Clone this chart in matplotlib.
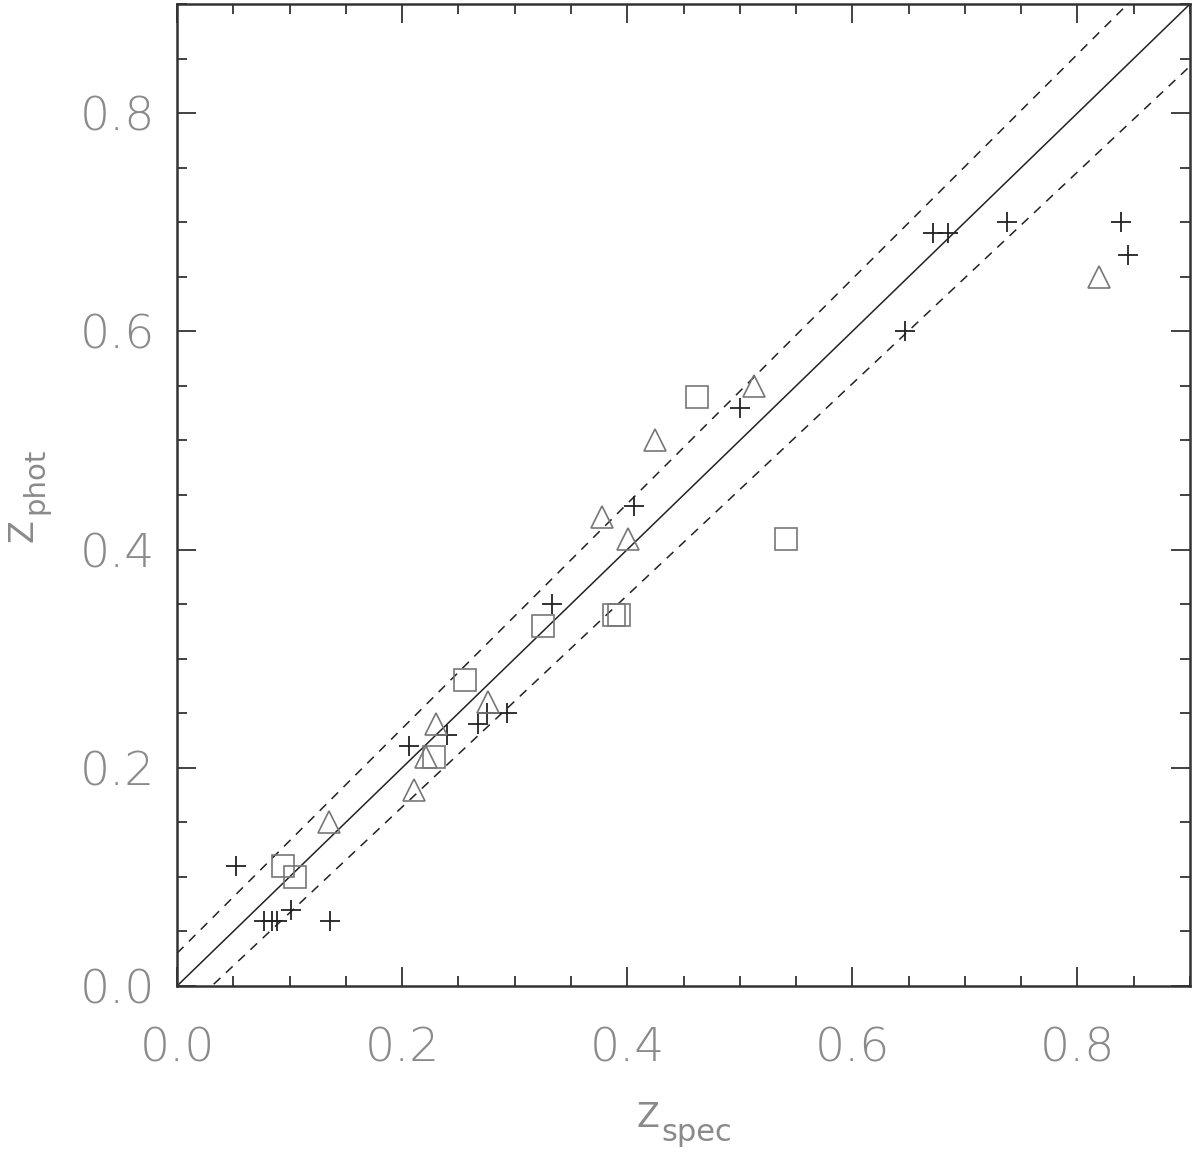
import numpy as np
import matplotlib
matplotlib.use("Agg")
import matplotlib.pyplot as plt
from matplotlib.ticker import MultipleLocator, FormatStrFormatter

# photometric vs spectroscopic redshift
plus_zspec = [0.052, 0.077, 0.084, 0.089, 0.101, 0.136, 0.206, 0.240, 0.267, 0.275,
              0.293, 0.333, 0.406, 0.500, 0.647, 0.672, 0.685, 0.737, 0.839, 0.845]
plus_zphot = [0.11, 0.06, 0.06, 0.06, 0.07, 0.06, 0.22, 0.23, 0.24, 0.25,
              0.25, 0.35, 0.44, 0.53, 0.60, 0.69, 0.69, 0.70, 0.70, 0.67]

sq_zspec = [0.094, 0.105, 0.228, 0.256, 0.325, 0.388, 0.393, 0.462, 0.541]
sq_zphot = [0.11, 0.10, 0.21, 0.28, 0.33, 0.34, 0.34, 0.54, 0.41]

tri_zspec = [0.135, 0.211, 0.221, 0.230, 0.276, 0.378, 0.401, 0.425, 0.513, 0.819]
tri_zphot = [0.15, 0.18, 0.21, 0.24, 0.26, 0.43, 0.41, 0.50, 0.55, 0.65]

scatter_width = 0.03  # dashed lines at +/- 0.03(1+z)

GRAY = "#8a8a8a"
FONT = ["DejaVu Sans"]
W, H = 1200, 1156

fig = plt.figure(figsize=(12, 11.56), dpi=100)
ax = fig.add_axes([177 / W, 1 - 986 / H, 1013 / W, 982 / H])

z = np.linspace(0, 0.9, 200)
ax.plot(z, z, color="#222222", lw=1.1)
ax.plot(z, z + scatter_width * (1 + z), color="#222222", lw=1.1, ls=(0, (6, 5)))
ax.plot(z, z - scatter_width * (1 + z), color="#222222", lw=1.1, ls=(0, (6, 5)))

ax.plot(plus_zspec, plus_zphot, ls="none", marker="+", ms=15, mew=1.3, color="#222222")
ax.plot(sq_zspec, sq_zphot, ls="none", marker="s", ms=15.5, mew=1.2,
        mfc="none", mec="#777777")
ax.plot(tri_zspec, tri_zphot, ls="none", marker="^", ms=15.5, mew=1.2,
        mfc="none", mec="#777777")

ax.set_xlim(0, 0.9)
ax.set_ylim(0, 0.9)

for axis in (ax.xaxis, ax.yaxis):
    axis.set_major_locator(MultipleLocator(0.2))
    axis.set_minor_locator(MultipleLocator(0.05))
    axis.set_major_formatter(FormatStrFormatter("%.1f"))

ax.tick_params(which="both", direction="in", top=True, right=True,
               color="#333333", width=1.3)
ax.tick_params(which="major", length=14)
ax.tick_params(which="minor", length=7)
ax.tick_params(axis="x", which="major", pad=29, labelsize=34, labelcolor=GRAY)
ax.tick_params(axis="y", which="major", pad=16, labelsize=34, labelcolor=GRAY)
for lab in ax.get_xticklabels() + ax.get_yticklabels():
    lab.set_family(FONT)
    lab.set_fontweight("light")

for sp in ax.spines.values():
    sp.set_linewidth(1.8)
    sp.set_color("#333333")

# axis titles: "Z" plus a lowered, same-size subscript
lab_kw = dict(color=GRAY, family=FONT, rotation_mode="anchor",
              ha="left", va="baseline")
fig.text(636 / W, 1 - 1127 / H, "Z", fontsize=24, **lab_kw)
fig.text(661 / W, 1 - 1141 / H, "spec", fontsize=22, **lab_kw)
fig.text(32 / W, 1 - 542 / H, "Z", fontsize=24, rotation=90, **lab_kw)
fig.text(43 / W, 1 - 514 / H, "phot", fontsize=21, rotation=90, **lab_kw)

fig.savefig("out.png", dpi=100)
